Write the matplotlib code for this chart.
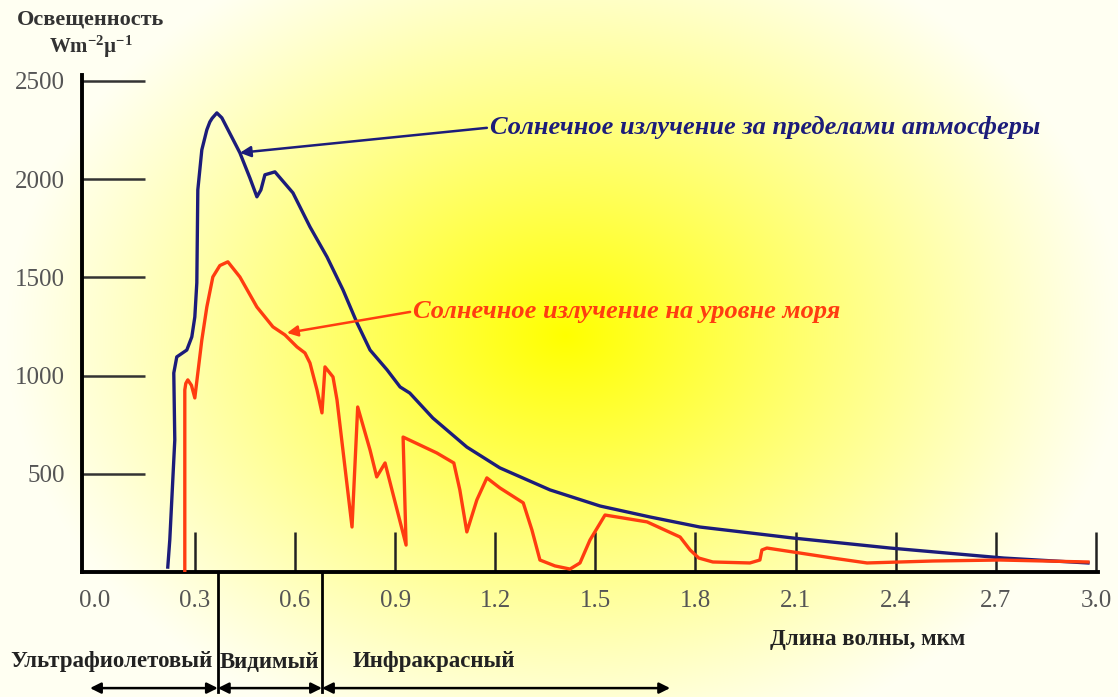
import numpy as np
import matplotlib
matplotlib.use("Agg")
import matplotlib.pyplot as plt

plt.rcParams["font.family"] = ["Liberation Serif", "DejaVu Serif"]
plt.rcParams["mathtext.fontset"] = "custom"
plt.rcParams["mathtext.rm"] = "Liberation Serif:bold"
plt.rcParams["mathtext.it"] = "Liberation Serif:bold:italic"
plt.rcParams["mathtext.bf"] = "Liberation Serif:bold"

# spectrum outside the atmosphere (wavelength, um / irradiance)
space_x = [0.219, 0.225, 0.240, 0.237, 0.246, 0.276, 0.291, 0.300, 0.306, 0.309,
           0.321, 0.336, 0.345, 0.352, 0.366, 0.381, 0.435, 0.465, 0.486, 0.498,
           0.510, 0.540, 0.594, 0.645, 0.696, 0.744, 0.786, 0.825, 0.876, 0.915,
           0.944, 1.013, 1.115, 1.214, 1.364, 1.514, 1.664, 1.813, 1.963, 2.092,
           2.383, 2.724, 2.976]
space_y = [25, 163, 672, 1013, 1095, 1130, 1197, 1298, 1472, 1945,
           2149, 2251, 2291, 2310, 2337, 2312, 2134, 2006, 1910, 1945,
           2022, 2037, 1930, 1757, 1604, 1436, 1268, 1130, 1029, 942,
           911, 784, 636, 530, 418, 336, 280, 229, 199, 173,
           122, 71, 46]

# spectrum at sea level
sea_x = [0.270, 0.270, 0.273, 0.279, 0.290, 0.300, 0.309, 0.321, 0.336, 0.354,
         0.375, 0.399, 0.435, 0.486, 0.534, 0.570, 0.606, 0.630, 0.645, 0.666,
         0.681, 0.690, 0.714, 0.726, 0.771, 0.788, 0.825, 0.845, 0.870, 0.933,
         0.924, 1.025, 1.076, 1.094, 1.115, 1.145, 1.175, 1.214, 1.284, 1.310,
         1.334, 1.379, 1.424, 1.454, 1.484, 1.529, 1.655, 1.754, 1.784, 1.810,
         1.852, 1.963, 1.993, 1.999, 2.014, 2.092, 2.211, 2.314, 2.512, 2.712,
         2.976]
sea_y = [0, 927, 960, 978, 950, 886, 1013, 1181, 1349, 1502,
         1560, 1579, 1502, 1349, 1248, 1207, 1146, 1115, 1064, 927,
         810, 1044, 993, 876, 229, 840, 621, 484, 555, 137,
         687, 606, 555, 418, 204, 367, 479, 428, 352, 214,
         61, 31, 15, 46, 163, 290, 255, 178, 112, 71,
         51, 46, 61, 112, 122, 102, 71, 46, 56, 61,
         51]

x_ticks = [0.0, 0.3, 0.6, 0.9, 1.2, 1.5, 1.8, 2.1, 2.4, 2.7, 3.0]
y_ticks = [500, 1000, 1500, 2000, 2500]

# band borders and ranges (um)
uv_start, uv_vis, vis_ir, ir_end = -0.014, 0.369, 0.681, 1.724
band_labels = ["Ультрафиолетовый", "Видимый", "Инфракрасный"]

BLUE = "#1c1c7a"
RED = "#ff3c10"

W, H = 1118, 697
fig = plt.figure(figsize=(W / 100, H / 100), dpi=100)

# yellow glow background
bg = fig.add_axes([0, 0, 1, 1], zorder=0)
yy, xx = np.mgrid[0:H, 0:W]
r = np.sqrt(((xx - 565) / 560.0) ** 2 + ((yy - 335) / 430.0) ** 2)
f = np.clip(1 - r, 0, 1) ** 1.1
base = np.array([1.0, 1.0, 0.95])
yel = np.array([1.0, 1.0, 0.0])
img = base[None, None, :] + (yel - base)[None, None, :] * f[:, :, None]
bg.imshow(img, aspect="auto", extent=[0, W, H, 0])
bg.axis("off")

ax = fig.add_axes([82 / W, (H - 572) / H, (1098 - 82) / W, 497 / H], zorder=1)
ax.patch.set_alpha(0)
ax.set_xlim(-0.038, 3.006)
ax.set_ylim(0, 2530)

ax.plot(space_x, space_y, color=BLUE, lw=2.4, solid_joinstyle="round", zorder=3)
ax.plot(sea_x, sea_y, color=RED, lw=2.4, solid_joinstyle="round", zorder=3)

for s in ["top", "right"]:
    ax.spines[s].set_visible(False)
for s in ["left", "bottom"]:
    ax.spines[s].set_linewidth(2.8)
    ax.spines[s].set_color("black")

ax.set_xticks(x_ticks)
ax.set_xticklabels([f"{t:.1f}" for t in x_ticks])
ax.set_yticks(y_ticks)
ax.tick_params(axis="x", direction="in", length=29, width=1.8, color="#222222",
               pad=13, labelsize=18, labelcolor="#555555")
ax.tick_params(axis="y", direction="in", length=45, width=1.8, color="#333333",
               pad=12, labelsize=18, labelcolor="#555555")
ax.xaxis.get_major_ticks()[0].tick1line.set_visible(False)

# annotations
ax.annotate("", xy=(0.435, 2134), xytext=(1.175, 2261),
            arrowprops=dict(arrowstyle="-|>", color=BLUE, lw=1.8,
                            mutation_scale=16, shrinkA=0, shrinkB=0))
ax.text(1.184, 2261, "Солнечное излучение за пределами атмосферы", color=BLUE,
        fontsize=19, fontweight="bold", fontstyle="italic", va="center", ha="left")
ax.annotate("", xy=(0.576, 1217), xytext=(0.945, 1324),
            arrowprops=dict(arrowstyle="-|>", color=RED, lw=1.8,
                            mutation_scale=16, shrinkA=0, shrinkB=0))
ax.text(0.955, 1324, "Солнечное излучение на уровне моря", color=RED,
        fontsize=19, fontweight="bold", fontstyle="italic", va="center", ha="left")

# band dividers and range arrows below the axis
for bx in [uv_vis, vis_ir]:
    ax.plot([bx, bx], [0, -611], color="black", lw=2.0, clip_on=False)
arrow_y = -591
for a, b in [(uv_start, uv_vis), (uv_vis, vis_ir), (vis_ir, ir_end)]:
    ax.annotate("", xy=(b, arrow_y), xytext=(a, arrow_y), annotation_clip=False,
                arrowprops=dict(arrowstyle="<|-|>", color="black", lw=1.8,
                                mutation_scale=16, shrinkA=0, shrinkB=0))

fig.text(10 / W, 1 - 662 / H, band_labels[0], fontsize=16.5, fontweight="bold",
         color="#222222", ha="left", va="center")
fig.text(220 / W, 1 - 662 / H, band_labels[1], fontsize=16.5, fontweight="bold",
         color="#222222", ha="left", va="center")
fig.text(353 / W, 1 - 662 / H, band_labels[2], fontsize=16.5, fontweight="bold",
         color="#222222", ha="left", va="center")
fig.text(868 / W, 1 - 640 / H, "Длина волны, мкм", fontsize=16.5, fontweight="bold",
         color="#222222", ha="center", va="center")

fig.text(90 / W, 1 - 19 / H, "Освещенность", fontsize=16, fontweight="bold",
         color="#333333", ha="center", va="center")
fig.text(91 / W, 1 - 47 / H, r"Wm$^{-2}$µ$^{-1}$", fontsize=15, fontweight="bold",
         color="#333333", ha="center", va="center")

fig.savefig("out.png", dpi=100)
